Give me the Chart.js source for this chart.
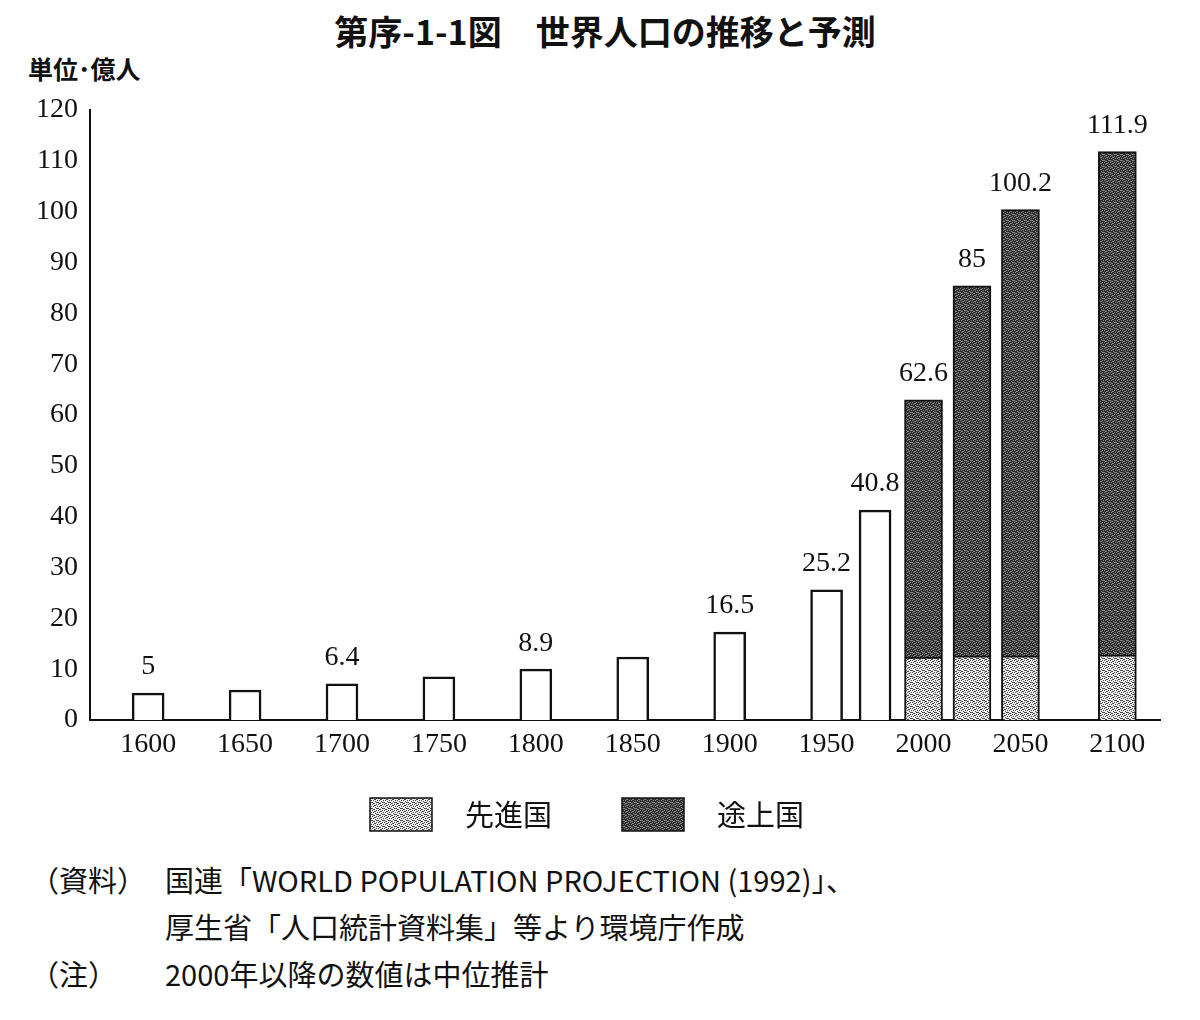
<!DOCTYPE html>
<html><head><meta charset="utf-8">
<script src="https://cdn.jsdelivr.net/npm/chart.js@4.4.0/dist/chart.umd.min.js"></script>
<style>
body{margin:0;background:#fff;width:1200px;height:1020px;position:relative;overflow:hidden;font-family:"Noto Sans CJK JP",sans-serif;color:#111}
#title{position:absolute;top:6px;left:0;width:1200px;text-align:center;font-size:34px;font-weight:700;padding-left:10px;box-sizing:border-box}
#unit{position:absolute;top:50px;left:28px;font-size:25px;font-weight:700}
#wrap{position:absolute;top:0;left:0;width:1200px;height:850px}
.note{position:absolute;font-size:29px;white-space:nowrap}
</style></head><body>
<div id="title">第序-1-1図　世界人口の推移と予測</div>
<div id="unit">単位･億人</div>
<div id="wrap"><canvas id="c"></canvas></div>
<div class="note" style="top:858px;left:30px">（資料）</div>
<div class="note" style="top:858px;left:165px">国連「WORLD POPULATION PROJECTION (1992)」、</div>
<div class="note" style="top:905px;left:165px">厚生省「人口統計資料集」等より環境庁作成</div>
<div class="note" style="top:952px;left:30px">（注）</div>
<div class="note" style="top:952px;left:165px">2000年以降の数値は中位推計</div>
<script>
// 年（棒の位置）
const years = [1600, 1650, 1700, 1750, 1800, 1850, 1900, 1950, 1975, 2000, 2025, 2050, 2100];
// 2000年以前の総人口（白い棒）
const totalPast = [5.3, 5.9, 7.1, 8.5, 10, 12.4, 17.3, 25.6, 41.3, null, null, null, null];
// 先進国・途上国（2000年以降）
const developed = [null, null, null, null, null, null, null, null, null, 12.4, 12.6, 12.6, 12.8];
const developing = [null, null, null, null, null, null, null, null, null, 50.6, 72.8, 87.8, 99.0];
// 棒の上の数値
const valueLabels = ['5', null, '6.4', null, '8.9', null, '16.5', '25.2', '40.8', '62.6', '85', '100.2', '111.9'];
const tickYears = [1600, 1650, 1700, 1750, 1800, 1850, 1900, 1950, 2000, 2050, 2100];

function makePattern(bg, dot) {
  const p = document.createElement('canvas');
  p.width = 6; p.height = 6;
  const g = p.getContext('2d');
  g.fillStyle = bg; g.fillRect(0, 0, 6, 6);
  g.fillStyle = dot;
  [[0,0],[2,1],[4,0],[1,2],[3,3],[5,2],[0,4],[2,5],[4,4],[3,1],[1,5],[5,4]].forEach(([a, b]) => g.fillRect(a, b, 1, 1));
  return document.getElementById('c').getContext('2d').createPattern(p, 'repeat');
}
const lightPat = makePattern('#eeeeee', '#444');
const darkPat = makePattern('#2e2e2e', '#8a8a8a');

const toXY = arr => arr.map((v, i) => v == null ? null : { x: years[i], y: v }).filter(Boolean);

const labelPlugin = {
  id: 'labels',
  afterDatasetsDraw(chart) {
    const { ctx, scales: { x, y } } = chart;
    ctx.save();
    ctx.font = '28px "Liberation Serif", serif';
    ctx.fillStyle = '#111';
    ctx.textAlign = 'center';
    ctx.textBaseline = 'bottom';
    years.forEach((yr, i) => {
      if (!valueLabels[i]) return;
      const top = (totalPast[i] || 0) + (developed[i] || 0) + (developing[i] || 0);
      ctx.fillText(valueLabels[i], x.getPixelForValue(yr), y.getPixelForValue(top) - 12);
    });
    // 凡例
    const items = [[lightPat, '先進国', 370], [darkPat, '途上国', 622]];
    ctx.font = '29px "Noto Sans CJK JP", sans-serif';
    ctx.textAlign = 'left';
    ctx.textBaseline = 'middle';
    items.forEach(([pat, txt, lx]) => {
      ctx.fillStyle = pat;
      ctx.fillRect(lx, 798, 62, 33);
      ctx.strokeStyle = '#111'; ctx.lineWidth = 1.5;
      ctx.strokeRect(lx, 798, 62, 33);
      ctx.fillStyle = '#111';
      ctx.fillText(txt, lx + 95, 815);
    });
    ctx.restore();
  }
};

const tickFont = { size: 28, family: '"Liberation Serif", serif' };

new Chart(document.getElementById('c'), {
  type: 'bar',
  data: {
    datasets: [
      { label: '人口', data: toXY(totalPast), backgroundColor: '#fff', borderColor: '#111', borderWidth: 2.5, barThickness: 32, stack: 's' },
      { label: '先進国', data: toXY(developed), backgroundColor: lightPat, borderColor: '#111', borderWidth: 2, barThickness: 38, stack: 's' },
      { label: '途上国', data: toXY(developing), backgroundColor: darkPat, borderColor: '#111', borderWidth: 2, barThickness: 38, stack: 's' }
    ]
  },
  options: {
    responsive: true,
    maintainAspectRatio: false,
    animation: false,
    layout: { padding: { top: 110, left: 0, right: 40, bottom: 90 } },
    plugins: { legend: { display: false }, tooltip: { enabled: false } },
    scales: {
      x: {
        type: 'linear', min: 1570, max: 2122, stacked: true, offset: false,
        afterBuildTicks: s => { s.ticks = tickYears.map(v => ({ value: v })); },
        afterFit: s => { s.height = 40; },
        grid: { display: false, drawTicks: true, tickLength: 6, tickColor: '#111' },
        border: { color: '#111', width: 2 },
        ticks: { color: '#111', font: tickFont, callback: v => String(v), maxRotation: 0, autoSkip: false, padding: 2 }
      },
      y: {
        min: 0, max: 120, stacked: true,
        afterFit: s => { s.width = 90; },
        grid: { display: false, drawTicks: true, tickLength: 6, tickColor: '#111' },
        border: { color: '#111', width: 2 },
        ticks: { stepSize: 10, color: '#111', font: tickFont, padding: 6 }
      }
    }
  },
  plugins: [labelPlugin]
});
</script>
</body></html>
